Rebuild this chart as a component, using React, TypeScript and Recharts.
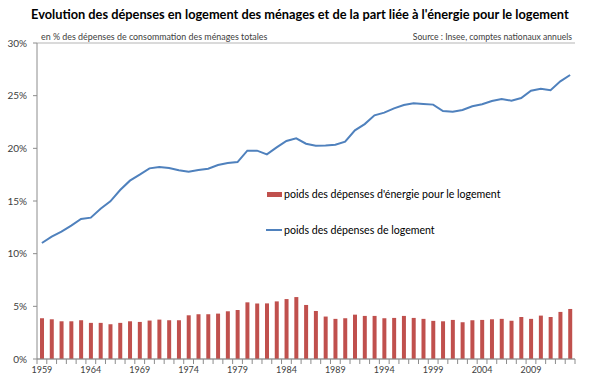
import React from 'react';
import { ComposedChart, Bar, Line, XAxis, YAxis, CartesianGrid } from 'recharts';

const years = [
  1959, 1960, 1961, 1962, 1963, 1964, 1965, 1966, 1967, 1968, 1969, 1970, 1971, 1972,
  1973, 1974, 1975, 1976, 1977, 1978, 1979, 1980, 1981, 1982, 1983, 1984, 1985, 1986,
  1987, 1988, 1989, 1990, 1991, 1992, 1993, 1994, 1995, 1996, 1997, 1998, 1999, 2000,
  2001, 2002, 2003, 2004, 2005, 2006, 2007, 2008, 2009, 2010, 2011, 2012, 2013,
];

// poids des dépenses de logement (%)
const housing = [
  11.01, 11.61, 12.09, 12.66, 13.29, 13.42, 14.27, 14.97, 16.04, 16.93, 17.5, 18.1, 18.23, 18.13,
  17.91, 17.78, 17.94, 18.07, 18.42, 18.61, 18.7, 19.78, 19.78, 19.43, 20.09, 20.7, 20.95, 20.44,
  20.25, 20.28, 20.35, 20.63, 21.71, 22.3, 23.13, 23.39, 23.8, 24.12, 24.27, 24.21, 24.15, 23.54,
  23.48, 23.64, 23.99, 24.18, 24.49, 24.68, 24.53, 24.78, 25.47, 25.66, 25.51, 26.36, 26.96,
];

// poids des dépenses d'énergie pour le logement (%)
const energy = [
  3.87, 3.77, 3.58, 3.58, 3.68, 3.43, 3.43, 3.3, 3.43, 3.58, 3.52, 3.65, 3.74, 3.68,
  3.68, 4.15, 4.25, 4.25, 4.31, 4.53, 4.65, 5.38, 5.28, 5.28, 5.47, 5.69, 5.88, 5.13,
  4.56, 4.03, 3.81, 3.87, 4.21, 4.09, 4.09, 3.87, 3.9, 4.09, 3.9, 3.81, 3.62, 3.58,
  3.71, 3.49, 3.68, 3.71, 3.77, 3.81, 3.62, 3.99, 3.81, 4.12, 3.99, 4.47, 4.75,
];

const yTicks = [0, 5, 10, 15, 20, 25, 30];
const labelStep = 5;

const energyName = "poids des dépenses d'énergie pour le logement";
const housingName = 'poids des dépenses de logement';

const data = years.map((year, i) => ({ year, housing: housing[i], energy: energy[i] }));

const FONT = 'Lato, "Liberation Sans", sans-serif';
const AXIS = '#8c8c8c';
const GRID = '#b5b5b5';
const RED = '#c0504d';
const BLUE = '#4f81bd';

function YearTick(props: any) {
  const { x, y, payload, index } = props;
  const half = payload && payload.offset ? payload.offset : 4.9;
  const show = (Number(payload.value) - years[0]) % labelStep === 0;
  const last = index === years.length - 1;
  return (
    <g>
      <line x1={x - half} x2={x - half} y1={y} y2={y + 5} stroke={AXIS} />
      {last && <line x1={x + half} x2={x + half} y1={y} y2={y + 5} stroke={AXIS} />}
      {show && (
        <text x={x} y={y + 14} textAnchor="middle" fontSize={9} fill="#404040" fontFamily={FONT}>
          {payload.value}
        </text>
      )}
    </g>
  );
}

export default function App() {
  return (
    <div style={{ position: 'absolute', left: 0, top: 0, width: 590, height: 389, background: '#fff', fontFamily: FONT }}>
      <div style={{ position: 'absolute', left: 31, top: 6, fontSize: 12.8, fontWeight: 700, color: '#000', whiteSpace: 'nowrap' }}>
        Evolution des dépenses en logement des ménages et de la part liée à l'énergie pour le logement
      </div>
      <div style={{ position: 'absolute', left: 41, top: 31, fontSize: 8.9, color: '#404040', whiteSpace: 'nowrap' }}>
        en % des dépenses de consommation des ménages totales
      </div>
      <div style={{ position: 'absolute', right: 18, top: 32, fontSize: 8.6, color: '#404040', whiteSpace: 'nowrap' }}>
        Source : Insee, comptes nationaux annuels
      </div>
      <ComposedChart
        width={590}
        height={389}
        data={data}
        margin={{ top: 43, right: 15, bottom: 0, left: 0 }}
        barCategoryGap={0}
      >
        <CartesianGrid vertical={false} stroke={GRID} />
        <XAxis
          dataKey="year"
          interval={0}
          height={30}
          tickLine={false}
          tickSize={0}
          tickMargin={0}
          stroke={AXIS}
          tick={<YearTick />}
        />
        <YAxis
          yAxisId="left"
          domain={[0, 30]}
          ticks={yTicks}
          width={37}
          stroke={AXIS}
          tickSize={4}
          tickMargin={6}
          tick={{ fontSize: 10, fill: '#404040', fontFamily: FONT }}
          tickFormatter={(v) => `${v}%`}
          interval={0}
        />
        <YAxis yAxisId="right" orientation="right" domain={[0, 30]} width={0} tick={false} tickLine={false} stroke={AXIS} />
        <Bar yAxisId="left" dataKey="energy" name={energyName} fill={RED} barSize={4} isAnimationActive={false} />
        <Line
          yAxisId="left"
          dataKey="housing"
          name={housingName}
          stroke={BLUE}
          strokeWidth={2}
          dot={false}
          type="linear"
          isAnimationActive={false}
        />
      </ComposedChart>
      <div
        style={{
          position: 'absolute',
          left: 253,
          top: 182,
          width: 259,
          height: 66,
          background: '#fff',
          fontSize: 10.6,
          color: '#000',
        }}
      >
        <div style={{ position: 'absolute', left: 14, top: 6, display: 'flex', alignItems: 'center', whiteSpace: 'nowrap' }}>
          <span style={{ display: 'inline-block', width: 15, height: 5, background: RED, marginRight: 2 }} />
          {energyName}
        </div>
        <div style={{ position: 'absolute', left: 13, top: 42, display: 'flex', alignItems: 'center', whiteSpace: 'nowrap' }}>
          <span style={{ display: 'inline-block', width: 16, height: 2, background: BLUE, marginRight: 2 }} />
          {housingName}
        </div>
      </div>
    </div>
  );
}
